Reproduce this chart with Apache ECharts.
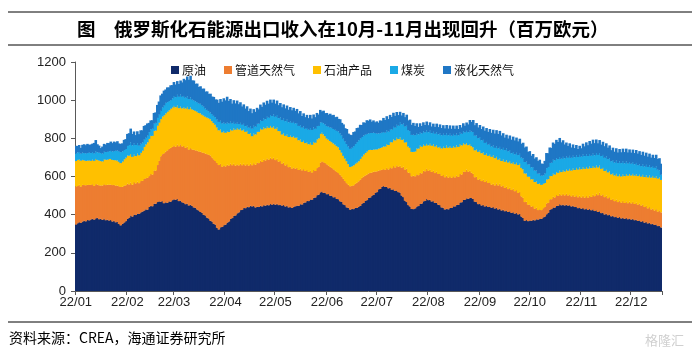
<!DOCTYPE html>
<html><head><meta charset="utf-8">
<script src="https://cdn.jsdelivr.net/npm/echarts@6/dist/echarts.min.js"></script>
<style>html,body{margin:0;padding:0;background:#fff}#c{width:700px;height:357px}</style>
</head><body><div id="c"></div>
<script>
const seriesNames = ['原油', '管道天然气', '石油产品', '煤炭', '液化天然气'];
const tickLabels = ['22/01','22/02','22/03','22/04','22/05','22/06','22/07','22/08','22/09','22/10','22/11','22/12'];
const startDate = '2022-01-01';

const crude = [
348,355,361,357,364,368,365,372,370,375,
378,374,381,383,376,379,373,380,371,374,
369,372,364,368,360,362,351,344,352,359,
366,378,384,396,390,401,398,406,404,412,
416,421,428,426,440,446,444,458,457,466,
470,468,471,460,465,462,470,468,476,481,
478,482,471,474,465,462,455,458,448,452,
446,438,436,427,422,414,410,399,396,384,
380,368,364,352,348,331,322,334,336,345,
348,358,364,378,382,394,396,407,412,424,
426,435,434,442,439,447,443,446,438,442,
440,447,443,450,447,453,449,456,452,458,
452,457,450,453,447,451,443,448,438,440,
435,442,444,448,446,455,453,463,464,472,
471,480,478,489,490,502,505,517,522,514,
516,507,508,499,500,491,492,482,481,470,
467,454,450,438,436,426,431,429,437,435,
442,446,458,461,472,476,488,490,500,503,
515,518,533,535,546,550,545,547,538,540,
531,533,524,527,518,516,500,492,473,466,
450,443,430,429,433,443,445,456,458,470,
472,482,476,478,469,471,461,462,452,450,
438,437,427,430,428,436,435,444,443,452,
451,464,465,477,478,486,483,490,487,482,
468,466,455,456,448,451,443,448,440,443,
436,440,432,436,427,431,422,426,418,422,
414,418,409,413,405,409,401,404,390,383,
368,372,366,370,368,374,370,376,374,380,
378,386,390,402,410,426,429,438,437,446,
446,455,449,453,448,452,447,450,443,447,
440,443,434,438,431,435,428,433,425,430,
423,428,419,423,414,418,408,411,401,405,
397,401,391,395,387,391,383,388,380,385,
378,383,376,380,374,378,371,374,367,370,
363,367,358,362,354,358,350,353,346,349,
340,342,333
];

const pipeGas = [
199,195,196,190,192,187,189,184,186,181,
182,177,179,175,178,174,180,180,184,183,
188,186,191,188,192,191,198,201,194,193,
188,185,174,172,167,170,166,167,161,164,
161,166,163,167,162,167,166,174,174,194,
212,238,246,262,266,275,274,282,279,283,
278,286,287,295,292,298,295,299,293,297,
296,302,301,309,309,317,316,325,324,333,
334,342,336,338,333,340,338,332,315,314,
305,304,293,289,277,273,261,257,246,243,
233,232,224,224,218,221,216,224,224,232,
230,236,233,239,237,242,239,243,239,240,
234,236,228,228,220,222,215,217,211,212,
206,206,197,197,188,187,179,176,165,162,
153,152,143,145,139,142,145,156,158,161,
155,157,150,152,145,147,140,142,137,139,
133,134,126,127,121,123,120,125,125,133,
133,138,135,139,133,134,128,129,121,122,
111,109,98,98,89,89,90,98,99,109,
112,122,123,132,133,141,146,159,163,175,
171,175,171,175,168,169,162,163,158,160,
155,158,154,159,155,159,157,163,161,167,
165,171,169,175,166,166,158,158,152,154,
147,149,145,150,146,150,142,141,133,132,
128,132,128,132,128,132,128,132,126,127,
121,123,121,128,126,132,126,128,122,124,
120,124,120,124,118,120,113,115,106,106,
98,96,86,84,74,71,61,60,50,49,
46,48,50,57,52,55,52,56,53,57,
52,55,52,56,53,57,53,57,53,57,
54,59,57,62,59,64,61,65,64,71,
70,77,78,87,88,97,92,96,91,95,
89,91,86,88,84,88,83,87,83,87,
83,87,84,88,85,89,85,89,85,89,
84,87,82,84,79,82,77,80,76,80,
76,81,79
];

const products = [
134,137,133,136,131,130,128,127,129,126,
128,131,132,129,130,128,126,130,133,131,
135,134,132,130,133,131,128,125,132,138,
145,147,151,150,146,144,143,147,146,148,
158,168,177,186,195,200,203,207,210,206,
200,195,197,199,200,202,203,205,206,206,
207,204,200,197,200,203,206,208,211,213,
210,208,207,204,202,200,198,195,193,192,
191,190,190,190,190,186,182,181,180,178,
176,174,176,179,182,185,188,190,188,185,
182,179,176,173,166,159,152,155,158,160,
164,167,170,169,168,168,167,166,165,165,
164,164,160,157,153,154,155,155,158,162,
165,163,162,160,156,152,149,148,146,145,
145,145,145,147,148,150,150,150,150,146,
141,135,135,135,135,135,135,135,135,130,
125,120,118,115,108,101,103,105,105,105,
105,108,111,115,118,121,123,121,118,116,
116,115,115,116,118,119,122,125,128,132,
136,140,142,144,145,148,146,144,142,140,
136,132,128,125,130,135,139,143,140,137,
134,131,133,135,137,139,139,139,139,139,
144,148,153,157,157,157,157,157,157,157,
157,157,153,148,144,139,139,139,139,139,
141,143,146,148,146,144,142,140,142,144,
146,148,143,139,135,131,133,135,137,139,
139,139,139,139,141,143,146,148,149,149,
150,148,147,145,143,142,140,138,137,135,
132,128,126,125,124,122,121,121,120,120,
121,121,122,124,125,127,130,133,135,138,
140,143,145,147,148,150,151,152,152,151,
151,150,149,147,145,142,140,138,137,135,
135,135,134,134,134,135,135,135,137,139,
141,143,144,145,146,147,148,149,150,150,
152,155,157,160,162,165,167,170,171,172,
173,172,170
];

const coal = [
40,39,38,37,38,38,39,40,41,41,
40,39,39,40,41,42,41,40,40,41,
41,42,44,47,50,52,55,58,54,49,
45,50,56,61,60,59,58,55,51,48,
43,38,35,35,35,35,37,38,40,41,
42,43,47,51,55,51,48,45,48,51,
53,56,60,63,61,59,57,55,54,52,
51,51,50,50,50,50,49,47,43,40,
38,35,37,38,40,42,44,45,47,47,
48,48,45,41,37,34,31,28,29,29,
30,30,30,30,33,37,40,41,41,42,
43,44,45,47,48,50,53,57,60,62,
63,65,68,71,75,76,77,78,77,76,
75,75,75,75,75,75,75,75,75,75,
76,77,78,76,73,70,65,60,55,58,
61,65,68,71,75,76,78,80,83,87,
90,90,90,90,92,95,97,100,103,107,
110,107,103,100,96,92,87,88,89,89,
86,83,80,78,77,75,73,72,70,68,
67,65,67,68,70,80,81,82,84,85,
86,88,89,90,85,80,75,70,70,70,
70,70,69,68,66,65,67,68,69,70,
69,68,67,65,65,65,64,64,63,62,
61,60,61,62,63,64,68,72,76,80,
77,75,72,70,68,65,63,61,59,57,
54,52,54,56,59,61,61,61,61,61,
59,57,54,52,52,52,52,52,54,57,
60,62,64,65,63,62,60,57,54,52,
48,44,50,60,64,68,70,73,75,73,
72,71,70,70,69,68,68,68,67,67,
67,67,66,66,66,67,67,67,66,66,
65,65,65,66,66,66,67,68,69,70,
70,69,69,68,68,69,69,70,70,69,
67,66,64,63,62,61,60,59,57,55,
55,55,55,55,55,54,53,52,52,51,
47,38,27
];

const lng = [
40,34,37,30,41,46,43,48,40,45,
44,55,60,42,37,26,37,41,39,47,
42,49,44,50,44,49,41,43,42,53,
52,63,62,72,60,62,52,62,60,70,
64,72,66,64,49,46,45,56,55,68,
69,81,73,78,70,77,72,78,70,74,
66,72,67,74,75,90,92,104,101,114,
101,104,92,97,86,92,87,95,89,97,
90,99,92,99,93,104,100,114,114,126,
122,134,118,119,104,114,107,116,104,108,
96,102,92,99,87,92,81,87,78,84,
75,83,74,83,76,84,74,81,71,78,
69,76,68,76,68,75,67,74,66,74,
66,74,66,74,66,74,61,69,61,69,
61,69,60,68,61,69,60,66,56,66,
59,69,63,72,66,74,66,74,66,74,
66,75,69,79,68,74,66,74,66,74,
66,72,63,69,62,72,66,71,59,64,
56,64,56,67,62,74,66,74,66,74,
66,74,62,67,56,54,47,56,49,58,
51,60,53,62,49,52,39,47,39,47,
39,47,37,44,35,43,36,45,38,47,
38,45,36,43,35,44,36,44,35,42,
33,40,33,42,35,44,41,54,51,63,
55,64,56,64,59,70,64,73,67,78,
72,82,75,84,76,84,73,77,66,73,
67,77,71,81,73,80,72,79,73,82,
76,79,66,69,61,69,63,70,66,72,
64,60,66,79,72,81,78,90,86,96,
90,100,86,87,73,74,62,66,54,59,
48,53,42,48,44,56,51,62,57,68,
63,73,64,71,61,68,60,69,61,69,
60,67,58,66,57,65,56,64,57,66,
59,67,58,66,58,66,59,68,61,69,
59,66,57,64,54,61,52,59,52,62,
56,63,58
];

const seriesData = [crude, pipeGas, products, coal, lng];
const colors = ['#102A6A', '#ED7D31', '#FFC000', '#1AA9E6', '#1F77C5'];

// daily category dates
const categories = [];
(function () {
  const t0 = Date.parse(startDate + 'T00:00:00Z');
  for (let i = 0; i < crude.length; i++) {
    const d = new Date(t0 + i * 86400000);
    const mm = String(d.getUTCMonth() + 1).padStart(2, '0');
    const dd = String(d.getUTCDate()).padStart(2, '0');
    categories.push(d.getUTCFullYear() + '-' + mm + '-' + dd);
  }
})();
const isMonthStart = (idx, val) => String(val).slice(8) === '01';

const chart = echarts.init(document.getElementById('c'), null, { renderer: 'canvas' });
const axisColor = '#595959';
const latin = '"Liberation Sans", Arial, sans-serif';
const cjk = '"Noto Sans CJK SC", sans-serif';

chart.setOption({
  animation: false,
  backgroundColor: '#fff',
  color: colors,
  grid: { left: 75, right: 38, top: 62, bottom: 66, containLabel: false },
  legend: {
    data: seriesNames,
    left: 166, top: 59,
    icon: 'rect', itemWidth: 8, itemHeight: 8, itemGap: 18,
    textStyle: { fontFamily: cjk, fontSize: 12, color: '#111', padding: [0, 0, 0, -2] }
  },
  xAxis: {
    type: 'category',
    data: categories,
    boundaryGap: true,
    axisLine: { lineStyle: { color: axisColor, width: 1 } },
    axisTick: { show: true, interval: isMonthStart, length: 4, lineStyle: { color: axisColor } },
    axisLabel: {
      interval: isMonthStart,
      margin: 5,
      fontFamily: latin, fontSize: 13, color: '#222',
      formatter: (v) => tickLabels[parseInt(v.slice(5, 7), 10) - 1]
    },
    splitLine: { show: false }
  },
  yAxis: {
    type: 'value',
    min: 0, max: 1200, interval: 200,
    axisLine: { show: true, lineStyle: { color: axisColor, width: 1 } },
    axisTick: { show: true, length: 4, lineStyle: { color: axisColor } },
    axisLabel: { margin: 9, fontFamily: latin, fontSize: 13, color: '#222', formatter: (v) => String(v) },
    splitLine: { show: false }
  },
  series: seriesNames.map((n, i) => ({
    name: n,
    type: 'bar',
    stack: 'total',
    data: seriesData[i],
    barWidth: 2.6,
    itemStyle: { color: colors[i] },
    emphasis: { disabled: true }
  })),
  graphic: [
    { type: 'line', shape: { x1: 8, y1: 12, x2: 692, y2: 12 }, style: { stroke: '#000', lineWidth: 1 } },
    { type: 'line', shape: { x1: 8, y1: 45, x2: 692, y2: 45 }, style: { stroke: '#000', lineWidth: 1 } },
    { type: 'text', x: 77, y: 29, style: { text: '图', fontFamily: cjk, fontSize: 18.5, fontWeight: 'bold', fill: '#000', verticalAlign: 'middle' } },
    { type: 'text', x: 114, y: 29, style: { text: '俄罗斯化石能源出口收入在10月-11月出现回升（百万欧元）', fontFamily: cjk, fontSize: 18.5, fontWeight: 'bold', fill: '#000', verticalAlign: 'middle' } },
    { type: 'line', shape: { x1: 8, y1: 322, x2: 692, y2: 322 }, style: { stroke: '#000', lineWidth: 1 } },
    { type: 'text', x: 9, y: 338, style: { text: '资料来源：CREA，海通证券研究所', fontFamily: cjk, fontSize: 14, fill: '#000', verticalAlign: 'middle' } },
    { type: 'text', x: 645, y: 340, style: { text: '格隆汇', fontFamily: cjk, fontSize: 13, fill: '#d0d0d0', verticalAlign: 'middle' } }
  ]
});
</script>
</body></html>
